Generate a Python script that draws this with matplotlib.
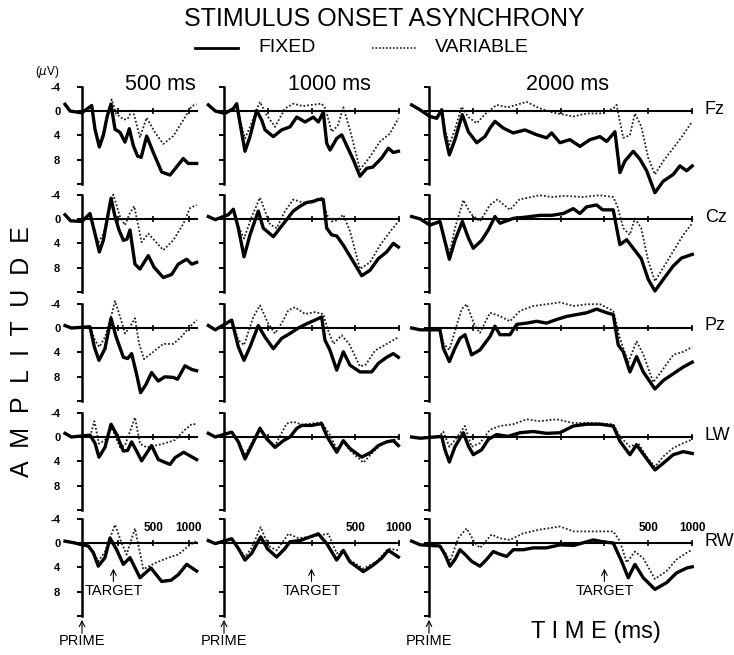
import numpy as np
import matplotlib
matplotlib.use("Agg")
import matplotlib.pyplot as plt

plt.rcParams['font.family'] = ['Liberation Sans', 'DejaVu Sans']

# ---- data: (time ms from prime, amplitude uV; negative is up) ----
SITES = ["Fz", "Cz", "Pz", "LW", "RW"]
SOAS = [500, 1000, 2000]
TARGET_MS = [440, 1000, 2000]

# SOA 500 ms
FZ_500_FIX = [(-238, -1.1), (-200, -0.5), (-168, 0), (-2, 0.3), (136, -0.9), (182, 3), (243, 5.9), (299, 4), (355, 0.8),
              (407, -1.1), (463, 3), (533, 3.5), (603, 5.1), (664, 2.9), (720, 5.7), (780, 7.4), (830, 7.6), (907, 4.1),
              (1000, 6.8), (1117, 10), (1234, 10.5), (1304, 9.5), (1420, 7.8), (1490, 8.6), (1608, 8.6)]
FZ_500_VAR = [(-238, -1.0), (-200, -0.5), (-168, 0), (-2, 0.3), (136, -0.9), (182, 2.6), (243, 5.2), (299, 3.5), (355, 0.5),
              (416, -1.9), (480, 0.5), (589, 1.4), (640, 1.3), (709, -0.3), (813, 4.3), (907, 1.1), (1023, 3.5),
              (1140, 5.4), (1280, 4.1), (1425, 1.4), (1538, -0.8), (1608, -1.1)]
CZ_500_FIX = [(-238, -0.7), (-160, 0.3), (0, 0.4), (112, -0.9), (182, 2.4), (243, 5.4), (299, 3.5), (407, -3.4), (463, -0.4),
              (519, 1.8), (580, 3.5), (630, 3.3), (673, 1.8), (743, 7.4), (813, 8.2), (930, 6), (1010, 7.9), (1140, 9.6),
              (1257, 9.1), (1350, 7.4), (1468, 6.6), (1540, 7.4), (1608, 7.1)]
CZ_500_VAR = [(-238, -0.7), (-160, 0.3), (0, 0.4), (112, -0.9), (182, 2.2), (230, 3.8), (299, 2.5), (380, -1.5), (439, -4.0),
              (533, -0.4), (603, 1), (673, -1), (733, -2.1), (836, 3.8), (930, 2.4), (1140, 5.1), (1280, 3.5),
              (1425, 0.7), (1514, -1.8), (1608, -2.3)]
PZ_500_FIX = [(-238, -0.4), (-150, 0), (112, -0.2), (173, 3.1), (238, 5.3), (322, 3.4), (407, -1.6), (477, 1.4), (580, 4.8),
              (640, 5), (696, 4.2), (766, 7.6), (822, 10.6), (900, 9.2), (976, 7.3), (1070, 8.7), (1160, 8), (1280, 8.1),
              (1340, 8.4), (1444, 6.2), (1540, 6.8), (1608, 7)]
PZ_500_VAR = [(-238, -0.4), (-150, 0), (112, -0.2), (182, 2), (243, 3.1), (327, 1.4), (400, -1.5), (463, -4.4), (533, -1.9),
              (603, 0.9), (673, -0.2), (743, -1.6), (800, 2.5), (869, 5.1), (1000, 3.9), (1140, 2.6), (1280, 2.6),
              (1397, 1.4), (1514, -0.2), (1608, -1.3)]
LW_500_FIX = [(-238, -0.6), (-150, 0), (112, -0.3), (182, 1.0), (238, 3.3), (322, 1.7), (407, -2.1), (477, -0.6), (580, 2.3),
              (640, 2.2), (696, 0.8), (766, 2.3), (836, 3.9), (976, 1.4), (1070, 3.7), (1234, 4.5), (1304, 3.4),
              (1425, 2.5), (1608, 3.7)]
LW_500_VAR = [(-238, -0.6), (-150, 0), (112, 0), (173, -2.6), (238, 1.1), (322, 0.5), (420, -1.5), (533, 1.7), (603, 1.4),
              (743, -3.2), (813, 1.1), (907, 1.7), (1000, 1.5), (1140, 1.1), (1304, 0.5), (1444, -1.2), (1538, -2.1),
              (1608, -2.1)]
RW_500_FIX = [(-238, -0.3), (-98, 0), (0, 0.3), (89, 0.5), (159, 1.6), (229, 3.8), (322, 2.4), (393, -0.8), (486, 1.1),
              (580, 3.5), (673, 2.4), (813, 5.7), (967, 4.1), (1117, 6.3), (1250, 6.1), (1350, 5.2), (1468, 3.5),
              (1608, 4.6)]
RW_500_VAR = [(-238, -0.3), (-98, 0), (0, 0.3), (89, 0.5), (159, 1.4), (229, 3), (322, 1.4), (463, -3.0), (556, 0),
              (626, 1.9), (743, -2.4), (860, 4.3), (1023, 3.3), (1210, 2.4), (1350, 1.9), (1514, 0.3), (1608, -0.3)]

# SOA 1000 ms
FZ_1000_FIX = [(-179, -1), (-100, 0), (11, 0.4), (107, -0.4), (145, -1.2), (183, 2), (240, 6.6), (297, 4.2), (373, -0.1),
               (431, 1.5), (469, 3.1), (564, 4.2), (659, 3.1), (754, 2.6), (831, 1), (926, 1.8), (1021, 1), (1078, 1.8),
               (1135, 0.2), (1174, 5.3), (1212, 6.4), (1288, 4.5), (1345, 3.9), (1478, 8), (1554, 10.7), (1631, 9.4),
               (1700, 9.2), (1802, 7.7), (1878, 6.1), (1935, 6.8), (1993, 6.6)]
FZ_1000_VAR = [(-179, -1), (-100, 0), (11, 0.4), (107, -0.4), (145, -1.0), (183, 1.5), (240, 4.5), (300, 2.5), (411, -1.5),
               (480, 0.5), (583, 2.6), (697, -0.4), (792, -1.2), (900, -0.8), (1000, -1.0), (1116, -1.2), (1160, -0.4),
               (1231, 3.4), (1300, 2.4), (1364, -0.6), (1440, 3.1), (1554, 9.6), (1669, 7.5), (1783, 5), (1897, 3.7),
               (1993, 1.2)]
CZ_1000_FIX = [(-179, -0.4), (-100, 0.1), (49, -0.7), (107, -1.6), (164, 1.5), (229, 6.2), (297, 2.6), (392, -1.3),
               (449, 1.5), (564, 2.9), (640, 1.5), (716, 0.1), (792, -1.3), (869, -2.1), (945, -2.7), (1021, -2.9),
               (1078, -3.2), (1135, -3.2), (1174, 1.5), (1231, 2.6), (1290, 2.8), (1364, 4.3), (1478, 7), (1574, 9.3),
               (1669, 8.4), (1764, 6.5), (1859, 5.4), (1935, 4), (1993, 4.6)]
CZ_1000_VAR = [(-179, -0.4), (-100, 0.1), (49, -0.7), (107, -1.4), (164, 1.2), (229, 3.2), (320, -0.5), (411, -3.5),
               (526, 0.9), (602, 1.5), (697, -1.3), (792, -3.2), (900, -2.7), (1021, -2.7), (1116, -3.5), (1180, -0.6),
               (1231, 0.4), (1290, 0.2), (1364, -0.7), (1440, 2), (1554, 8.2), (1669, 7.1), (1783, 4.3), (1897, 2.1),
               (1993, 0.4)]
PZ_1000_FIX = [(-179, -0.4), (-100, 0.3), (88, -1.3), (164, 3.1), (229, 5.3), (297, 3.1), (392, -0.4), (469, 1.5), (564, 3.4),
               (659, 1.7), (754, 0.9), (850, 0), (945, -0.7), (1040, -1.3), (1116, -1.8), (1154, 2), (1210, 3.6),
               (1288, 6.9), (1364, 3.9), (1440, 6.1), (1554, 7.2), (1688, 7.2), (1764, 5.8), (1859, 4.8), (1935, 4.2),
               (1993, 4.8)]
PZ_1000_VAR = [(-179, -0.4), (-100, 0.3), (88, -1.3), (164, 2.0), (229, 2.8), (335, -1.8), (411, -3.7), (507, -0.7),
               (583, 0.9), (660, -0.8), (735, -2.9), (811, -3.4), (926, -2.3), (1040, -2.6), (1135, -2.3), (1180, 0),
               (1250, 2.6), (1345, 1.2), (1430, 2.6), (1554, 6.3), (1620, 6), (1726, 3.7), (1897, 2.3), (1993, 1.5)]
LW_1000_FIX = [(-179, -0.6), (-100, 0), (88, -0.8), (164, 0.8), (240, 3.6), (316, 1.4), (411, -1.4), (488, 0.3), (583, 1.7),
               (678, 0.6), (754, 0), (831, -1.4), (888, -1.9), (1002, -1.9), (1116, -2.2), (1180, 0), (1288, 2.5),
               (1364, 0.6), (1440, 1.9), (1574, 3.3), (1680, 2.5), (1764, 1.4), (1859, 0.8), (1935, 0.6), (1993, 1.4)]
LW_1000_VAR = [(-179, -0.6), (-100, 0), (88, -0.8), (164, 0.6), (240, 3.0), (316, 1.0), (411, -1.6), (488, 0.2), (583, 1.4),
               (716, -2.2), (792, -2.5), (900, -2.0), (1000, -2.2), (1116, -2.4), (1212, -0.3), (1290, 2.0), (1364, 0.8),
               (1440, 2.2), (1593, 4.2), (1700, 2.5), (1800, 1.2), (1900, 0.6), (1993, 0.3)]
RW_1000_FIX = [(-179, -0.4), (-100, 0.1), (88, -0.7), (164, 0.9), (240, 2.8), (316, 1.7), (419, -1), (500, 1), (602, 2.3),
               (697, 0.9), (754, -0.2), (869, -0.4), (983, -1), (1078, -1.5), (1174, 0.1), (1288, 2.8), (1364, 1.2),
               (1440, 3.1), (1593, 4.7), (1707, 3.6), (1802, 2.5), (1878, 1.2), (1993, 2.3)]
RW_1000_VAR = [(-179, -0.4), (-100, 0.1), (88, -0.7), (164, 0.7), (240, 2.3), (316, 0.8), (419, -2.6), (510, 0.5), (602, 1.2),
               (735, -1.5), (850, -0.8), (983, -1.0), (1100, -1.3), (1193, -1.5), (1288, 1.7), (1364, 1.2), (1440, 2.8),
               (1593, 4.2), (1750, 3.0), (1878, 0.9), (1993, 1.2)]

# SOA 2000 ms
FZ_2000_FIX = [(-198, -1), (-103, -0.2), (11, 0.9), (88, 1.2), (145, -0.2), (182, 3.9), (232, 7.2), (296, 4.7), (380, 0.6),
               (449, 3.4), (544, 5.2), (638, 4.2), (695, 2.8), (752, 1.7), (847, 2.8), (961, 3.6), (1094, 3.1), (1228, 3.9),
               (1341, 4.4), (1398, 3.6), (1493, 5.2), (1607, 4.7), (1721, 5.8), (1835, 4.7), (1949, 4.2), (2026, 5),
               (2120, 3.4), (2177, 10.1), (2234, 8.2), (2329, 6.6), (2405, 7.9), (2482, 9.8), (2576, 13.4), (2671, 11.5),
               (2785, 10.4), (2861, 9), (2938, 9.8), (3002, 9)]
FZ_2000_VAR = [(-198, -1), (-103, -0.2), (11, 0.9), (88, 1.0), (145, -0.2), (182, 3), (232, 5.5), (296, 3), (372, -0.7),
               (449, 1), (544, 2), (640, 0.5), (771, -1), (900, -0.6), (1114, -1.5), (1250, -0.5), (1400, 0.2), (1645, 0.9),
               (1800, 0.4), (1950, 0.4), (2101, -0.4), (2139, -1), (2215, 4.4), (2290, 4), (2348, 0.4), (2420, 2.5),
               (2500, 7.7), (2576, 10.4), (2671, 8.2), (2785, 6.1), (2899, 3.9), (3002, 1.7)]
CZ_2000_FIX = [(-198, -0.4), (-100, 0), (11, 1), (125, 0.4), (182, 3.7), (232, 6.6), (296, 3.5), (380, 0.4), (449, 3.1),
               (505, 4.8), (600, 3.5), (676, 1.8), (752, -0.4), (809, 0.7), (961, -0.1), (1100, -0.3), (1265, -0.6),
               (1400, -0.6), (1531, -0.9), (1645, -1.7), (1720, -0.9), (1798, -2), (1911, -2.3), (1980, -1.5), (2101, -1.5),
               (2140, 1.5), (2177, 4.2), (2254, 3.4), (2329, 4.8), (2420, 6.5), (2500, 9.9), (2576, 11.8), (2671, 9.9),
               (2785, 7.7), (2880, 6.4), (3002, 5.8)]
CZ_2000_VAR = [(-198, -0.4), (-100, 0), (11, 1), (125, 0.6), (182, 3.5), (232, 5.8), (296, 1.5), (392, -3.1), (480, -0.8),
               (581, 0.4), (695, -2.3), (780, -3.2), (923, -1.5), (1030, -3.2), (1265, -3.9), (1400, -3.6), (1550, -3.8),
               (1750, -3.6), (1949, -3.9), (2101, -3.6), (2150, -2), (2215, 1.5), (2290, 2.6), (2348, -0.1), (2420, 1.5),
               (2500, 6.9), (2576, 10.2), (2671, 8), (2785, 5.3), (2899, 2.6), (3002, 0.7)]
PZ_2000_FIX = [(-198, 0), (-100, 0.3), (125, 0.3), (163, 3.3), (232, 5.5), (296, 3.3), (353, 1.7), (410, 1.1), (486, 4.4),
               (581, 3.6), (695, 1.4), (752, -0.3), (809, 1.1), (923, 1.1), (1000, -0.6), (1114, -0.8), (1228, -1.1),
               (1340, -0.8), (1456, -1.4), (1570, -1.9), (1684, -2.2), (1798, -2.5), (1911, -3.1), (2026, -2.5),
               (2101, -2.2), (2158, 2.8), (2215, 3.9), (2291, 7.2), (2367, 4.7), (2443, 7.2), (2576, 10), (2671, 8.6),
               (2785, 7.5), (2899, 6.4), (3002, 5.6)]
PZ_2000_VAR = [(-198, 0), (-100, 0.3), (125, 0.3), (163, 2.5), (232, 3.6), (296, 0.5), (372, -3.1), (429, -3.9), (524, -0.3),
               (581, 0.8), (695, -2.5), (800, -2.0), (923, -1.1), (1037, -2.8), (1189, -3.6), (1341, -3.9), (1493, -4.2),
               (1650, -3.6), (1800, -3.9), (1950, -3.9), (2101, -2.8), (2177, 1.7), (2272, 5.6), (2367, 2.2), (2443, 4.3),
               (2557, 8.9), (2671, 6.7), (2785, 4.4), (2899, 3.9), (3002, 3.1)]
LW_2000_FIX = [(-198, 0), (-100, 0.2), (145, -0.1), (182, 2.1), (232, 4.1), (296, 1.6), (392, -0.7), (450, 1.5), (505, 2.9),
               (600, 2.1), (676, 0.4), (771, -0.4), (900, -0.1), (1037, -0.7), (1189, -0.9), (1340, -0.6), (1493, -0.7),
               (1645, -1.8), (1798, -2.1), (1949, -2.1), (2101, -1.8), (2177, 0.7), (2291, 2.9), (2367, 1.3), (2443, 2.8),
               (2576, 5.4), (2671, 4.3), (2785, 2.9), (2899, 2.4), (3002, 2.7)]
LW_2000_VAR = [(-198, 0), (-100, 0.2), (110, 0), (163, -0.9), (232, 1.6), (296, 0.5), (410, -1.8), (486, 1.6), (581, 1.0),
               (695, -1.2), (809, -1.8), (961, -2.1), (1114, -2.9), (1260, -2.6), (1456, -2.9), (1645, -2.3), (1850, -2.3),
               (2101, -2.1), (2177, -0.1), (2291, 1.6), (2386, 1.0), (2480, 3.2), (2576, 4.9), (2671, 3.2), (2785, 1.8),
               (2899, 1.0), (3002, 0.4)]
RW_2000_FIX = [(-198, -0.3), (-100, 0.3), (125, 0.5), (182, 1.9), (239, 3.8), (296, 2.7), (353, 1.1), (420, 2.0), (486, 3),
               (581, 3.8), (650, 2.8), (733, 1.4), (800, 1.8), (885, 2.2), (961, 1.1), (1075, 1.1), (1189, 0.8), (1340, 0.8),
               (1493, 0.3), (1650, 0.4), (1873, -0.5), (1980, -0.2), (2101, 0), (2196, 3), (2272, 5.7), (2348, 3.5),
               (2443, 5.7), (2576, 7.6), (2709, 6.5), (2823, 4.9), (2938, 4.1), (3002, 3.9)]
RW_2000_VAR = [(-198, -0.3), (-100, 0.3), (125, 0.4), (182, 1.5), (239, 3), (334, -0.8), (429, -2.4), (524, 0), (581, 0.8),
               (714, -1.4), (800, -0.8), (923, -0.5), (1075, -1.6), (1265, -2.2), (1493, -2.7), (1650, -1.9), (1873, -1.9),
               (2101, -1.9), (2177, -0.3), (2254, 3.2), (2348, 1.4), (2443, 2.5), (2576, 5.9), (2709, 4.6), (2823, 2.7),
               (2938, 1.6), (3002, 1.1)]

FIXED = {
    ("Fz", 500): FZ_500_FIX, ("Cz", 500): CZ_500_FIX, ("Pz", 500): PZ_500_FIX, ("LW", 500): LW_500_FIX, ("RW", 500): RW_500_FIX,
    ("Fz", 1000): FZ_1000_FIX, ("Cz", 1000): CZ_1000_FIX, ("Pz", 1000): PZ_1000_FIX, ("LW", 1000): LW_1000_FIX, ("RW", 1000): RW_1000_FIX,
    ("Fz", 2000): FZ_2000_FIX, ("Cz", 2000): CZ_2000_FIX, ("Pz", 2000): PZ_2000_FIX, ("LW", 2000): LW_2000_FIX, ("RW", 2000): RW_2000_FIX,
}
VARIABLE = {
    ("Fz", 500): FZ_500_VAR, ("Cz", 500): CZ_500_VAR, ("Pz", 500): PZ_500_VAR, ("LW", 500): LW_500_VAR, ("RW", 500): RW_500_VAR,
    ("Fz", 1000): FZ_1000_VAR, ("Cz", 1000): CZ_1000_VAR, ("Pz", 1000): PZ_1000_VAR, ("LW", 1000): LW_1000_VAR, ("RW", 1000): RW_1000_VAR,
    ("Fz", 2000): FZ_2000_VAR, ("Cz", 2000): CZ_2000_VAR, ("Pz", 2000): PZ_2000_VAR, ("LW", 2000): LW_2000_VAR, ("RW", 2000): RW_2000_VAR,
}

# ---- layout (pixels of the 734x655 figure) ----
W, H = 734, 655
COL_ZERO_PX = [82, 224, 429]
COL_PX_PER_MS = [0.0713, 0.0875, 0.0877]
COL_XLIM = [(-245, 1615), (-205, 2005), (-205, 3008)]
ROW_ZERO_PX = [111, 219, 328, 437, 543]
PX_PER_UV = 6.1


def fx(x):
    return x / W


def fy(y):
    return 1 - y / H


fig = plt.figure(figsize=(W / 100, H / 100), dpi=100)

for r, site in enumerate(SITES):
    for c, soa in enumerate(SOAS):
        x0, x1 = COL_XLIM[c]
        ppm = COL_PX_PER_MS[c]
        left = COL_ZERO_PX[c] + x0 * ppm
        width = (x1 - x0) * ppm
        top = ROW_ZERO_PX[r] - 4 * PX_PER_UV
        height = 16 * PX_PER_UV
        ax = fig.add_axes([fx(left), fy(top + height), width / W, height / H])
        ax.set_xlim(x0, x1)
        ax.set_ylim(12, -4)
        ax.patch.set_visible(False)

        t, v = zip(*FIXED[(site, soa)])
        ax.plot(t, v, color="black", lw=2.4, solid_joinstyle="round", clip_on=False, zorder=3)
        t, v = zip(*VARIABLE[(site, soa)])
        ax.plot(t, v, color="#222222", lw=1.3, ls=(0, (1, 1.1)), clip_on=False, zorder=2)

        for s in ["top", "right"]:
            ax.spines[s].set_visible(False)
        ax.spines["left"].set_position(("data", 0))
        ax.spines["left"].set_bounds(-4, 12)
        ax.spines["left"].set_linewidth(1.8)
        ax.spines["bottom"].set_position(("data", 0))
        ax.spines["bottom"].set_bounds(0, x1 - 5)
        ax.spines["bottom"].set_linewidth(1.5)

        ax.set_yticks([-4, 0, 4, 8, 12])
        ax.tick_params(axis="y", direction="out", length=3.6, width=1.4, pad=12)
        if c == 0:
            ax.set_yticklabels(["-4", "0", "4", "8", ""], fontsize=8, fontweight="bold")
        else:
            ax.tick_params(axis="y", labelleft=False)
        ax.set_xticks(np.arange(500, x1, 500))
        ax.tick_params(axis="x", direction="inout", length=5, width=1.2, labelbottom=False)

        if c == 2:
            fig.text(fx(705), fy(ROW_ZERO_PX[r] - 2), site, fontsize=13, ha="left", va="center")

        if r == len(SITES) - 1:
            for k, lab in enumerate(["500", "1000"]):
                ax.text(soa + 500 * (k + 1), -2.5, lab, fontsize=8.5, fontweight="bold",
                        ha="center", va="center")
            tm = TARGET_MS[c]
            ax.annotate("", xy=(tm, 4.2), xytext=(tm, 6.3), annotation_clip=False,
                        arrowprops=dict(arrowstyle="->", lw=0.8, color="black", shrinkA=0, shrinkB=0))
            ax.text(tm, 7.8, "TARGET", fontsize=10.5, ha="center", va="center")
            ax.annotate("", xy=(0, 12.6), xytext=(0, 14.8), annotation_clip=False,
                        arrowprops=dict(arrowstyle="->", lw=0.8, color="black", shrinkA=0, shrinkB=0))
            ax.text(0, 16.1, "PRIME", fontsize=10.5, ha="center", va="center", clip_on=False)

# titles and legend
fig.text(fx(384), fy(19), "STIMULUS ONSET ASYNCHRONY", fontsize=18, ha="center", va="center")
fig.add_artist(plt.Line2D([fx(195), fx(238)], [fy(48), fy(48)], color="black", lw=2.0))
fig.text(fx(258), fy(48), "FIXED", fontsize=14, ha="left", va="center")
fig.add_artist(plt.Line2D([fx(372), fx(416)], [fy(48), fy(48)], color="#222222", lw=1.2, ls=(0, (1, 1.1))))
fig.text(fx(435), fy(48), "VARIABLE", fontsize=14, ha="left", va="center")

for c, lab in enumerate(["500 ms", "1000 ms", "2000 ms"]):
    fig.text(fx([160, 329, 567][c]), fy(84), lab, fontsize=15.5, ha="center", va="center")

fig.text(fx(47), fy(72), r"($\mu$V)", fontsize=8.5, ha="center", va="center")
fig.text(fx(22), fy(352), "A  M  P  L  I  T  U  D  E", fontsize=18, rotation=90, ha="center", va="center")
fig.text(fx(596), fy(632), "T I M E (ms)", fontsize=17, ha="center", va="center")

fig.savefig("out.png", dpi=100)
